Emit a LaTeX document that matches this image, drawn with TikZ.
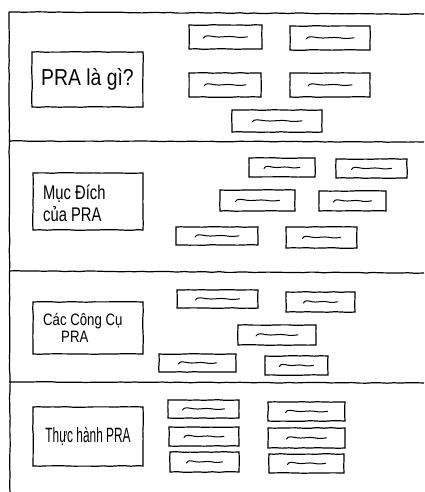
\documentclass[tikz,border=0pt]{standalone}
\usepackage{fontspec}
\usepackage{graphicx}
\setmainfont{Liberation Sans}
\usetikzlibrary{decorations.pathmorphing}
\newcommand\squig[2]{\draw[squigline, shift={(#1.center)}, xscale=#2] (-1,1) .. controls (-0.92,-2.2) and (-0.75,-1.2) .. (-0.5,-0.3) .. controls (-0.25,0.9) and (0.1,-1.4) .. (0.4,-0.2) .. controls (0.6,0.8) and (0.85,0.4) .. (1,-0.2);}
\begin{document}
\pgfmathsetseed{7}
\begin{tikzpicture}[x=1pt,y=-1pt,
  sketch/.style={decorate, decoration={random steps, segment length=7pt, amplitude=0.35pt}},
  framel/.style={line width=1.2pt, sketch},
  bigbox/.style={draw, line width=1.2pt, sketch, inner sep=0pt},
  smallbox/.style={draw, line width=1.2pt, sketch, inner sep=0pt},
  squigline/.style={line width=1pt, line cap=round}]
\useasboundingbox (0,0) rectangle (424,492);
% frame
\coordinate (t0) at (9,12);  \coordinate (t1) at (424,14);
\coordinate (h1a) at (9,141); \coordinate (h1b) at (424,142);
\coordinate (h2a) at (9,271); \coordinate (h2b) at (424,273);
\coordinate (h3a) at (9,382); \coordinate (h3b) at (424,383);
\coordinate (b0) at (10,492);
\draw[framel] (t0) -- (t1);
\draw[framel] (h1a) -- (h1b);
\draw[framel] (h2a) -- (h2b);
\draw[framel] (h3a) -- (h3b);
\draw[framel] (t0) -- (b0);
% section 1
\node[bigbox, minimum width=111pt, minimum height=55pt] (L1) at (87.5,79.5) {\scalebox{0.88}[1.05]{\fontsize{22}{24}\selectfont PRA là gì?}};
\node[smallbox, minimum width=73pt, minimum height=24pt] (a1) at (225.5,37) {};
\node[smallbox, minimum width=80pt, minimum height=24pt] (a2) at (330,38) {};
\node[smallbox, minimum width=72pt, minimum height=24pt] (a3) at (225,85) {};
\node[smallbox, minimum width=80pt, minimum height=24pt] (a4) at (330,85) {};
\node[smallbox, minimum width=90pt, minimum height=22pt] (a5) at (277,121) {};
\squig{a1}{22} \squig{a2}{24} \squig{a3}{21} \squig{a4}{22} \squig{a5}{25}
% section 2
\node[bigbox, minimum width=110pt, minimum height=57pt] (L2) at (88,201.5) {};
\node[anchor=west, inner sep=0pt, align=left] (L2t) at (43,203) {\scalebox{0.82}[1.1]{\fontsize{18}{24}\selectfont Mục Đích}\\[3pt]\scalebox{0.82}[1.1]{\fontsize{18}{24}\selectfont của PRA}};
\node[smallbox, minimum width=66pt, minimum height=19pt] (b1) at (282,167.5) {};
\node[smallbox, minimum width=71pt, minimum height=19pt] (b2) at (371.5,168.5) {};
\node[smallbox, minimum width=75pt, minimum height=21pt] (b3) at (257.5,200.5) {};
\node[smallbox, minimum width=67pt, minimum height=20pt] (b4) at (352.5,201) {};
\node[smallbox, minimum width=82pt, minimum height=18pt] (b5) at (217,236) {};
\node[smallbox, minimum width=71pt, minimum height=21pt] (b6) at (321.5,237.5) {};
\squig{b1}{18} \squig{b2}{20} \squig{b3}{22} \squig{b4}{19} \squig{b5}{22} \squig{b6}{19}
% section 3
\node[bigbox, minimum width=110pt, minimum height=52pt] (L3) at (88,328) {};
\node[anchor=west, inner sep=0pt, align=left] (L3t) at (43,328) {\scalebox{0.88}[1.1]{\fontsize{15}{20}\selectfont Các Công Cụ}\\[1pt]\hspace*{18pt}\scalebox{0.88}[1.1]{\fontsize{15}{20}\selectfont PRA}};
\node[smallbox, minimum width=81pt, minimum height=18pt] (c1) at (217.5,299) {};
\node[smallbox, minimum width=69pt, minimum height=20pt] (c2) at (320.5,302) {};
\node[smallbox, minimum width=78pt, minimum height=20pt] (c3) at (277,335) {};
\node[smallbox, minimum width=77pt, minimum height=18pt] (c4) at (197.5,363) {};
\node[smallbox, minimum width=63pt, minimum height=19pt] (c5) at (296.5,365.5) {};
\squig{c1}{22} \squig{c2}{17} \squig{c3}{21} \squig{c4}{19} \squig{c5}{17}
% section 4
\node[bigbox, minimum width=110pt, minimum height=59pt] (L4) at (88,436.5) {\scalebox{0.66}[1.15]{\fontsize{18}{20}\selectfont Thực hành PRA}};
\node[smallbox, minimum width=71pt, minimum height=18pt] (d1) at (203.5,409) {};
\node[smallbox, minimum width=70pt, minimum height=19pt] (d2) at (204,436.5) {};
\node[smallbox, minimum width=69pt, minimum height=20pt] (d3) at (204.5,462) {};
\node[smallbox, minimum width=77pt, minimum height=19pt] (e1) at (306.5,411.5) {};
\node[smallbox, minimum width=77pt, minimum height=20pt] (e2) at (306.5,438) {};
\node[smallbox, minimum width=75pt, minimum height=19pt] (e3) at (306.5,463.5) {};
\squig{d1}{21} \squig{d2}{20} \squig{d3}{18} \squig{e1}{21} \squig{e2}{20} \squig{e3}{19}
\end{tikzpicture}
\end{document}
